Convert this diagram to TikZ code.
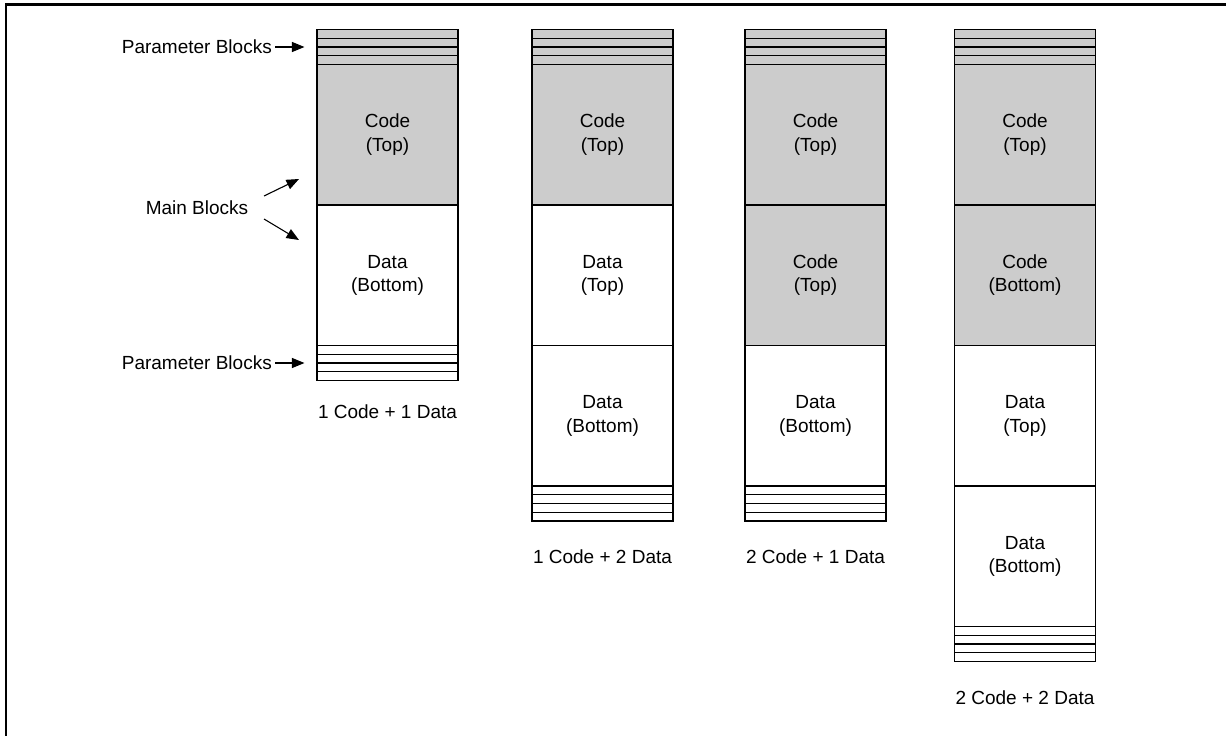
\documentclass[tikz,border=0pt]{standalone}
\usepackage{fontspec}
\setmainfont{Liberation Sans}
\usetikzlibrary{arrows.meta}
\definecolor{codegray}{HTML}{CCCCCC}
\begin{document}
\begin{tikzpicture}[x=1pt,y=-1pt,
  txt/.style={font=\fontsize{19}{23.5}\selectfont},
  blk/.style={draw=black, line width=1.1pt, minimum width=141pt, minimum height=140.5pt, inner sep=0pt, align=center, txt},
  codeblk/.style={blk, fill=codegray},
  datablk/.style={blk, fill=white},
  pstrip/.style={draw=black, line width=1.1pt, minimum width=141pt, minimum height=8.75pt, inner sep=0pt},
  lbl/.style={txt, inner sep=0pt},
  arr/.style={-{Triangle[length=12.5pt,width=10pt]}, line width=1.1pt}]
\useasboundingbox (0,0) rectangle (1226,736);
\draw[line width=2.2pt] (6,736) -- (6,4.5) -- (1226,4.5);

% Column 1
\foreach \i in {0,...,3} \node[pstrip, fill=codegray] (p1t\i) at (387.5, 33.875+8.75*\i) {};
\node[codeblk] (c1a) at (387.5, 134.75) {Code\\(Top)};
\node[datablk] (c1b) at (387.5, 275.25) {Data\\(Bottom)};
\foreach \i in {0,...,3} \node[pstrip, fill=white] (p1b\i) at (387.5, 349.875+8.75*\i) {};
\node[lbl] (l1) at (387.5, 412) {1 Code + 1 Data};

% Column 2
\foreach \i in {0,...,3} \node[pstrip, fill=codegray] (p2t\i) at (602.5, 33.875+8.75*\i) {};
\node[codeblk] (c2a) at (602.5, 134.75) {Code\\(Top)};
\node[datablk] (c2b) at (602.5, 275.25) {Data\\(Top)};
\node[datablk] (c2c) at (602.5, 415.75) {Data\\(Bottom)};
\foreach \i in {0,...,3} \node[pstrip, fill=white] (p2b\i) at (602.5, 490.375+8.75*\i) {};
\node[lbl] (l2) at (602.5, 557) {1 Code + 2 Data};

% Column 3
\foreach \i in {0,...,3} \node[pstrip, fill=codegray] (p3t\i) at (815.5, 33.875+8.75*\i) {};
\node[codeblk] (c3a) at (815.5, 134.75) {Code\\(Top)};
\node[codeblk] (c3b) at (815.5, 275.25) {Code\\(Top)};
\node[datablk] (c3c) at (815.5, 415.75) {Data\\(Bottom)};
\foreach \i in {0,...,3} \node[pstrip, fill=white] (p3b\i) at (815.5, 490.375+8.75*\i) {};
\node[lbl] (l3) at (815.5, 557) {2 Code + 1 Data};

% Column 4
\foreach \i in {0,...,3} \node[pstrip, fill=codegray] (p4t\i) at (1025, 33.875+8.75*\i) {};
\node[codeblk] (c4a) at (1025, 134.75) {Code\\(Top)};
\node[codeblk] (c4b) at (1025, 275.25) {Code\\(Bottom)};
\node[datablk] (c4c) at (1025, 415.75) {Data\\(Top)};
\node[datablk] (c4d) at (1025, 556.25) {Data\\(Bottom)};
\foreach \i in {0,...,3} \node[pstrip, fill=white] (p4b\i) at (1025, 630.875+8.75*\i) {};
\node[lbl] (l4) at (1025, 698) {2 Code + 2 Data};

% Left labels
\node[lbl, anchor=east] (pbt) at (272, 47) {Parameter Blocks};
\node[lbl, anchor=east] (pbb) at (272, 363) {Parameter Blocks};
\node[lbl] (mb) at (197, 208) {Main Blocks};
\draw[arr] ([xshift=3pt]pbt.east) -- ([xshift=-12pt]pbt.east -| p1t1.west);
\draw[arr] ([xshift=3pt]pbb.east) -- ([xshift=-12pt]pbb.east -| p1b1.west);
\coordinate (mbu) at (264,196);
\coordinate (mbd) at (264,219);
\coordinate (mbut) at (299,179);
\coordinate (mbdt) at (299,240);
\draw[arr] (mbu) -- (mbut);
\draw[arr] (mbd) -- (mbdt);
\end{tikzpicture}
\end{document}
